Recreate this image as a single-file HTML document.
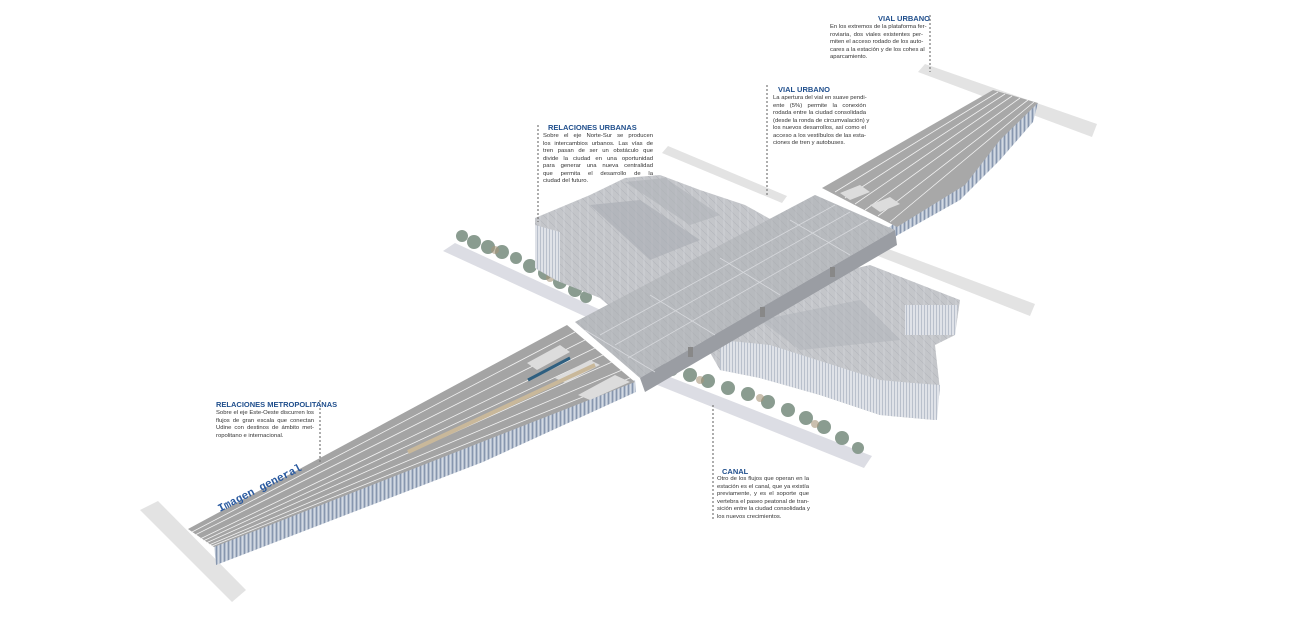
<!DOCTYPE html>
<html><head><meta charset="utf-8"><style>
body{margin:0;background:#fff;width:1300px;height:619px;overflow:hidden;position:relative;font-family:"Liberation Sans",sans-serif}
.t{position:absolute;color:#1f4e8c;font-weight:bold;font-size:7.5px}
.b{position:absolute;color:#333;font-size:5.9px;line-height:7.5px}
.b div{text-align:justify;text-align-last:justify;white-space:nowrap}
.b div.l{text-align-last:left}
.r div.l{text-align-last:right}
</style></head><body>
<svg width="1300" height="619" style="position:absolute;left:0;top:0">
<defs>
<pattern id="st" width="4" height="10" patternUnits="userSpaceOnUse"><rect width="4" height="10" fill="#b4bfcf"/><rect width="1" height="10" fill="#8796ae"/><rect x="2" width="1" height="10" fill="#d3d9e2"/></pattern>
<pattern id="rf" width="8" height="8" patternUnits="userSpaceOnUse"><rect width="8" height="8" fill="#c4c6ca"/><path d="M0 0L8 8" stroke="#b2b5bb" stroke-width="0.6"/><path d="M4 0V8" stroke="#d8dade" stroke-width="0.6"/></pattern>
<pattern id="wl" width="3" height="8" patternUnits="userSpaceOnUse"><rect width="3" height="8" fill="#dfe2e8"/><rect width="1" height="8" fill="#b9c0cc"/></pattern>
</defs>
<!-- roads -->
<polygon points="140,510 158,501 246,590 232,602" fill="#e3e3e3"/>
<polygon points="918,72 925,64 1097,124 1092,137" fill="#e3e3e3"/>
<polygon points="662,153 668,146 787,196 782,203" fill="#e3e3e3"/>
<polygon points="868,252 875,244 1035,304 1030,316" fill="#e3e3e3"/>
<!-- canals -->
<polygon points="443,251 455,243 605,312 597,322" fill="#dcdde4"/>
<polygon points="640,378 652,370 872,456 864,468" fill="#dcdde4"/>
<!-- trees -->
<g fill="#8a9c90">
<circle cx="462" cy="236" r="6"/><circle cx="474" cy="242" r="7"/><circle cx="488" cy="247" r="7"/><circle cx="502" cy="252" r="7"/><circle cx="516" cy="258" r="6"/><circle cx="530" cy="266" r="7"/><circle cx="545" cy="273" r="7"/><circle cx="560" cy="282" r="7"/><circle cx="575" cy="290" r="7"/><circle cx="586" cy="297" r="6"/>
<circle cx="658" cy="364" r="7"/><circle cx="672" cy="370" r="6"/><circle cx="690" cy="375" r="7"/><circle cx="708" cy="381" r="7"/><circle cx="728" cy="388" r="7"/><circle cx="748" cy="394" r="7"/><circle cx="768" cy="402" r="7"/><circle cx="788" cy="410" r="7"/><circle cx="806" cy="418" r="7"/><circle cx="824" cy="427" r="7"/><circle cx="842" cy="438" r="7"/><circle cx="858" cy="448" r="6"/>
</g>
<g fill="#a7967a" opacity="0.6"><circle cx="495" cy="250" r="4"/><circle cx="550" cy="278" r="4"/><circle cx="700" cy="380" r="4"/><circle cx="760" cy="398" r="4"/><circle cx="815" cy="424" r="4"/></g>
<!-- lower-left arm side -->
<polygon points="214,545 635,380 636,392 483,462 216,565" fill="url(#st)"/>
<!-- lower-left arm deck -->
<polygon points="188,529 567,325 635,382 214,547" fill="#a4a4a4"/>
<g stroke="#f2f2f2" stroke-width="0.8" fill="none">
<path d="M192,532 L575,332"/><path d="M195,535 L585,340"/><path d="M200,539 L595,348"/><path d="M203,541 L603,355"/><path d="M206,543 L612,362"/><path d="M209,545 L622,370"/><path d="M212,546 L630,378"/>
</g>
<polygon points="527,363 560,345 570,352 537,370" fill="#dcdcdc"/>
<polygon points="555,378 590,360 600,365 565,383" fill="#dcdcdc"/>
<polygon points="578,395 615,375 630,382 590,400" fill="#dcdcdc"/>
<path d="M408,452 L595,365" stroke="#c9b89a" stroke-width="4"/>
<path d="M528,380 L570,358" stroke="#2e5f80" stroke-width="3"/>
<!-- upper-right arm -->
<polygon points="1038,103 1033,122 1000,160 960,200 880,245 880,235" fill="url(#st)"/>
<polygon points="822,188 993,90 1038,103 1000,140 965,185 897,227" fill="#a8a8a8"/>
<g stroke="#f2f2f2" stroke-width="0.8" fill="none">
<path d="M835,192 L998,92"/><path d="M845,198 L1005,94"/><path d="M855,204 L1012,96"/><path d="M865,210 L1020,98"/><path d="M878,216 L1028,100"/><path d="M890,222 L1034,102"/>
</g>
<polygon points="840,193 860,185 870,192 850,200" fill="#dcdcdc"/>
<polygon points="870,205 890,197 900,204 880,212" fill="#dcdcdc"/>
<!-- station roofs back wing -->
<polygon points="535,218 590,195 625,178 660,175 700,190 745,205 790,230 770,255 700,285 620,315 600,298 555,280 535,268" fill="url(#rf)"/>
<polygon points="535,225 560,232 560,282 535,268" fill="url(#wl)"/>
<polygon points="590,205 640,200 700,240 650,260" fill="#a9acb2" opacity="0.6"/>
<polygon points="625,182 665,178 720,215 690,225" fill="#afb2b8" opacity="0.6"/>
<!-- front wing -->
<polygon points="700,335 760,290 870,265 960,300 955,335 935,345 940,390 935,420 880,415 820,395 760,378 720,370" fill="url(#rf)"/>
<polygon points="720,370 760,378 820,395 880,415 935,420 935,385 880,380 770,345 720,340" fill="url(#wl)"/>
<polygon points="905,305 958,305 955,335 905,335" fill="url(#wl)"/>
<polygon points="870,380 940,385 937,420 868,410" fill="url(#wl)"/>
<polygon points="760,320 860,300 900,340 800,350" fill="#aeb1b7" opacity="0.5"/>
<!-- cross bridge -->
<polygon points="575,322 815,195 895,230 640,378" fill="url(#rf)"/>
<polygon points="575,322 815,195 895,230 640,378" fill="#a9abb0" opacity="0.45"/>
<polygon points="640,378 895,230 897,245 645,392" fill="#9a9da3"/>
<g stroke="#d6d8dc" stroke-width="0.8" fill="none">
<path d="M600,335 L835,205"/><path d="M615,345 L850,212"/><path d="M628,358 L868,220"/><path d="M585,330 L655,372"/><path d="M650,295 L715,335"/><path d="M720,258 L780,295"/><path d="M790,220 L850,255"/>
</g>
<g fill="#888"><rect x="688" y="347" width="5" height="10"/><rect x="760" y="307" width="5" height="10"/><rect x="830" y="267" width="5" height="10"/></g>
<!-- dashed leaders -->
<g stroke="#777" stroke-width="1.2" stroke-dasharray="2,2">
<line x1="538" y1="125" x2="538" y2="222"/><line x1="930" y1="15" x2="930" y2="72"/><line x1="767" y1="85" x2="767" y2="196"/><line x1="320" y1="400" x2="320" y2="462"/><line x1="713" y1="405" x2="713" y2="520"/>
</g>
<text x="220" y="512" transform="rotate(-27 220 512)" font-family="Liberation Mono,monospace" font-size="11" font-weight="bold" fill="#2a5aa0">Imagen general</text>
</svg>
<div class="t" style="left:548px;top:123px">RELACIONES URBANAS</div>
<div class="b" style="left:543px;top:133px;width:110px"><div>Sobre el eje Norte-Sur se producen</div><div>los intercambios urbanos. Las vías de</div><div>tren pasan de ser un obstáculo que</div><div>divide la ciudad en una oportunidad</div><div>para generar una nueva centralidad</div><div>que permita el desarrollo de la</div><div class="l">ciudad del futuro.</div></div>
<div class="t" style="left:878px;top:14px">VIAL URBANO</div>
<div class="b" style="left:830px;top:24px;width:93px"><div>En los extremos de la plataforma fer-</div><div>roviaria, dos viales existentes per-</div><div>miten el acceso rodado de los auto-</div><div>cares a la estación y de los cohes al</div><div class="l">aparcamiento.</div></div>
<div class="t" style="left:778px;top:85px">VIAL URBANO</div>
<div class="b" style="left:773px;top:95px;width:93px"><div>La apertura del vial en suave pendi-</div><div>ente (5%) permite la conexión</div><div>rodada entre la ciudad consolidada</div><div>(desde la ronda de circumvalación) y</div><div>los nuevos desarrollos, así como el</div><div>acceso a los vestíbulos de las esta-</div><div class="l">ciones de tren y autobuses.</div></div>
<div class="t" style="left:216px;top:400px">RELACIONES METROPOLITANAS</div>
<div class="b" style="left:216px;top:410px;width:98px"><div>Sobre el eje Este-Oeste discurren los</div><div>flujos de gran escala que conectan</div><div>Udine con destinos de ámbito met-</div><div class="l">ropolitano e internacional.</div></div>
<div class="t" style="left:722px;top:467px">CANAL</div>
<div class="b" style="left:717px;top:476px;width:92px"><div>Otro de los flujos que operan en la</div><div>estación es el canal, que ya existía</div><div>previamente, y es el soporte que</div><div>vertebra el paseo peatonal de tran-</div><div>sición entre la ciudad consolidada y</div><div class="l">los nuevos crecimientos.</div></div>
</body></html>
